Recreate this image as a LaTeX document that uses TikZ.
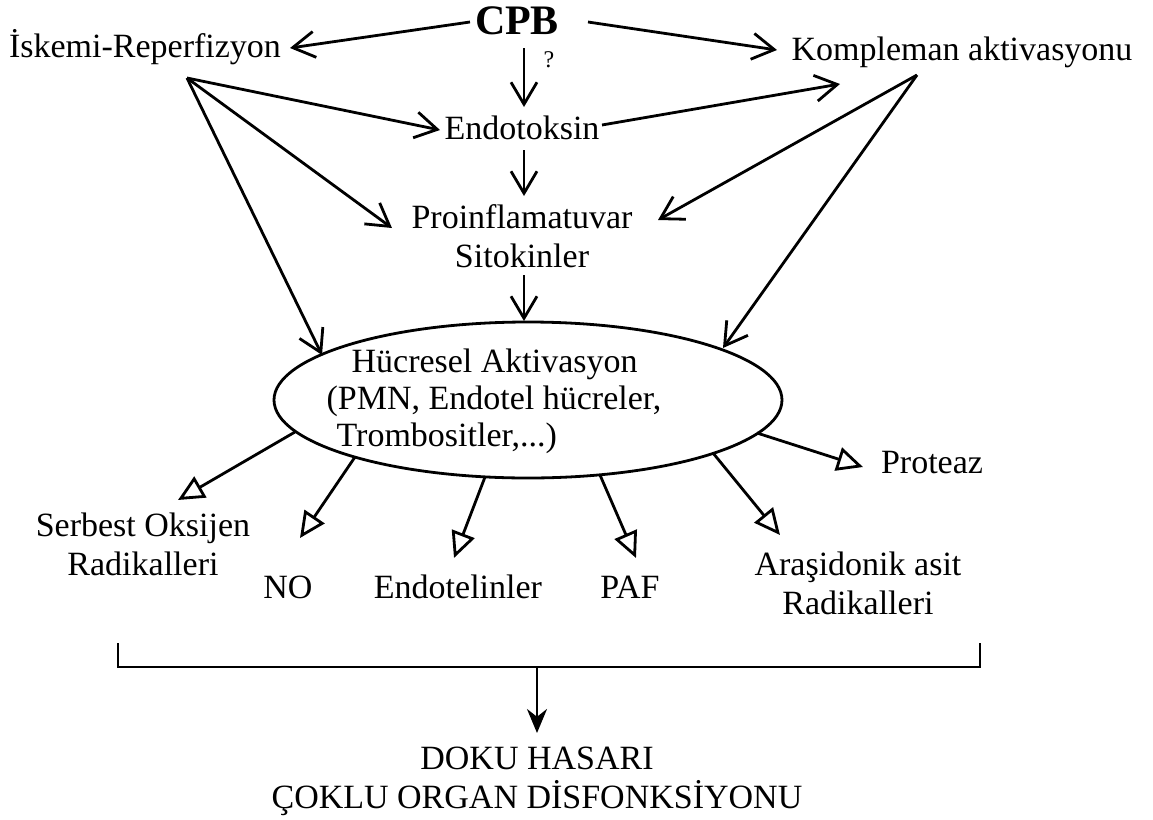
\documentclass[tikz,border=0pt]{standalone}
\usepackage{fontspec}
\setmainfont{Liberation Serif}
\usetikzlibrary{arrows.meta,shapes.geometric}
\begin{document}
\begin{tikzpicture}[x=0.5pt,y=-0.5pt,
  lbl/.style={inner sep=0pt, font=\fontsize{17}{19.5}\selectfont, align=center},
  conn/.style={line width=1.4pt, -{Straight Barb[length=11pt,width=13pt,line width=1.4pt]}},
  outarr/.style={line width=1.4pt, -{Triangle[open,length=13pt,width=12pt,line width=1.4pt]}},
  finarr/.style={line width=1.4pt, -{Stealth[length=12pt,width=10pt]}},
  brk/.style={line width=1.4pt}
]
\useasboundingbox[fill=white] (0,0) rectangle (1153,820);

% nodes
\node[inner sep=0pt, font=\fontsize{21}{23}\selectfont\bfseries] (cpb) at (517,21) {CPB};
\node[lbl] (isk) at (145,47) {İskemi-Reperfizyon};
\node[lbl] (komp) at (962,52) {Kompleman aktivasyonu};
\node[inner sep=0pt, font=\fontsize{12}{14}\selectfont] (q) at (549,60) {?};
\node[lbl] (endo) at (522,128) {Endotoksin};
\node[lbl] (pro) at (522,236) {Proinflamatuvar\\Sitokinler};
\node[ellipse, draw, line width=1.4pt, inner sep=0pt, minimum width=254pt, minimum height=78pt] (ell) at (528,400) {};
\node[lbl, align=left, font=\fontsize{17}{18.5}\selectfont] (ellt) at (494,401) {\hspace{12.5pt}Hücresel Aktivasyon\\(PMN, Endotel hücreler,\\\hspace{5pt}Trombositler,...)};
\node[lbl] (serb) at (143,544) {Serbest Oksijen\\Radikalleri};
\node[lbl] (no) at (288,587) {NO};
\node[lbl] (endl) at (458,587) {Endotelinler};
\node[lbl] (paf) at (630,587) {PAF};
\node[lbl] (ara) at (858,583) {Araşidonik asit\\Radikalleri};
\node[lbl] (prot) at (932,463) {Proteaz};
\node[lbl] (doku) at (537,781) {DOKU HASARI\\ÇOKLU ORGAN DİSFONKSİYONU};

% coordinates
\coordinate (cpbL) at (470,22);
\coordinate (cpbR) at (588,22);
\coordinate (cpbB) at (524,48);
\coordinate (iskT) at (290,48);
\coordinate (kompT) at (777,50);
\coordinate (endoT) at (524,107);
\coordinate (endoR) at (602,125);
\coordinate (kompT2) at (840,84);
\coordinate (iskS) at (187,78);
\coordinate (kompS) at (917,75);
\coordinate (endoL) at (440,130);
\coordinate (proL) at (392,228);
\coordinate (proR) at (658,220);
\coordinate (ellL) at (322,355);
\coordinate (ellR) at (723,348);
\coordinate (endoB) at (524,150);
\coordinate (proT) at (524,196);
\coordinate (proB) at (524,275);
\coordinate (ellT) at (524,321);
% ellipse outputs
\coordinate (o1) at (295,432);
\coordinate (o2) at (355,457);
\coordinate (o3) at (485,477);
\coordinate (o4) at (600,475);
\coordinate (o5) at (713,453);
\coordinate (o6) at (757,433);
\coordinate (serbT) at (178,500);
\coordinate (noT) at (300,538);
\coordinate (endlT) at (454,558);
\coordinate (pafT) at (636,558);
\coordinate (araT) at (780,535);
\coordinate (protT) at (863,467);
% bracket
\coordinate (bl) at (118,643);
\coordinate (blb) at (118,667);
\coordinate (br) at (980,643);
\coordinate (brb) at (980,667);
\coordinate (bm) at (537,667);
\coordinate (dokuT) at (537,733);

% connectors
\draw[conn] (cpbL) -- (iskT);
\draw[conn] (cpbR) -- (kompT);
\draw[conn] (cpbB) -- (endoT);
\draw[conn] (endoR) -- (kompT2);
\draw[conn] (iskS) -- (endoL);
\draw[conn] (iskS) -- (proL);
\draw[conn] (iskS) -- (ellL);
\draw[conn] (kompS) -- (proR);
\draw[conn] (kompS) -- (ellR);
\draw[conn] (endoB) -- (proT);
\draw[conn] (proB) -- (ellT);

\draw[outarr] (o1) -- (serbT);
\draw[outarr] (o2) -- (noT);
\draw[outarr] (o3) -- (endlT);
\draw[outarr] (o4) -- (pafT);
\draw[outarr] (o5) -- (araT);
\draw[outarr] (o6) -- (protT);

\draw[brk] (bl) -- (blb) -- (brb) -- (br);
\draw[finarr] (bm) -- (dokuT);
\end{tikzpicture}
\end{document}
